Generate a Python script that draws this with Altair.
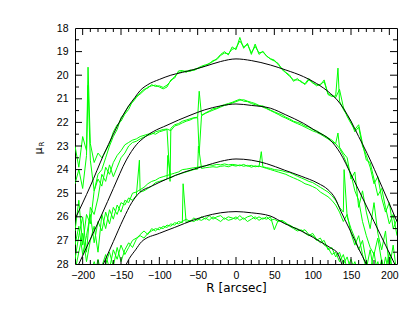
import altair as alt
import pandas as pd

# ---------------- data ----------------
R_GRID = [-210, -205, -200, -195, -190, -185, -180, -175, -170, -165, -160, -155, -150, -145, -140,
          -135, -130, -125, -120, -115, -110, -105, -100, -95, -90, -85, -80, -75, -70, -65, -60,
          -55, -50, -45, -40, -35, -30, -25, -20, -15, -10, -5, 0, 5, 10, 15, 20, 25, 30, 35, 40,
          45, 50, 55, 60, 65, 70, 75, 80, 85, 90, 95, 100, 105, 110, 115, 120, 125, 130, 135, 140,
          145, 150, 155, 160, 165, 170, 175, 180, 185, 190, 195, 200, 205, 210]

G1A = [23.0, 23.9, 22.6, 23.2, 22.9, 23.7, 23.3, 23.5,
       23.2, 22.9, 22.4, 22.1, 21.95, 21.65, 21.45, 21.1, 20.9,
       20.8, 20.65, 20.5, 20.45, 20.42, 20.5, 20.58, 20.5, 20.2, 20.12,
       19.82, 19.8, 19.88, 19.78, 19.8, 19.72, 19.66,
       19.6, 19.5, 19.42, 19.3, 19.12, 19.0, 19.14, 18.8,
       18.92, 18.4, 18.86, 18.65, 19.12, 18.68, 19.12, 18.98,
       19.2, 19.3, 19.36, 19.55, 19.72, 19.88, 20.0, 20.26,
       20.14, 20.3, 20.36, 20.14, 20.34, 20.4, 20.42, 20.2,
       20.82, 20.9, 20.88, 21.1, 21.45, 21.7, 21.95, 22.4,
       22.2, 23.0, 23.4, 23.9, 24.6, 24.3, 25.2, 25.8, 25.4, 26.5, 26.1]
G1B = [24.6, 24.0, 24.8, 23.4, 23.6, 24.9, 24.2, 24.0,
       23.5, 23.0, 22.6, 22.3, 21.8, 21.6, 21.3, 21.15, 20.95,
       20.75, 20.6, 20.55, 20.4, 20.48, 20.45, 20.52, 20.42, 20.25, 20.05,
       19.9, 19.84, 19.82, 19.84, 19.76, 19.7, 19.62,
       19.56, 19.52, 19.38, 19.34, 19.16, 19.06, 19.1, 18.9,
       18.85, 18.55, 18.8, 18.7, 19.05, 18.78, 19.05, 19.02,
       19.18, 19.32, 19.4, 19.5, 19.76, 19.9, 20.05, 20.2,
       20.2, 20.25, 20.4, 20.2, 20.3, 20.45, 20.38, 20.28,
       20.78, 20.85, 20.95, 20.6, 21.35, 21.75, 22.05, 22.3,
       22.1, 22.9, 23.6, 23.7, 24.4, 25.1, 24.8, 25.6, 26.3, 25.9, 26.8]
G2A = [26.6, 25.3, 27.2, 25.9, 26.3, 24.9, 24.4, 24.7,
       23.9, 24.2, 23.7, 23.4, 23.2, 22.95, 22.85, 22.75, 22.7,
       22.6, 22.55, 22.5, 22.45, 22.5, 22.4, 22.35, 22.3, 22.25, 22.1,
       22.05, 21.95, 21.9, 21.85, 21.8, 21.78, 21.7,
       21.6, 21.52, 21.42, 21.4, 21.3, 21.25, 21.2, 21.15,
       21.08, 21.02, 21.1, 21.12, 21.2, 21.25, 21.3, 21.3,
       21.4, 21.48, 21.55, 21.62, 21.68, 21.78, 21.85, 21.95,
       22.0, 22.05, 22.15, 22.2, 22.3, 22.35, 22.45, 22.55,
       22.65, 22.75, 22.9, 23.1, 23.4, 23.8, 24.2, 24.9,
       25.3, 26.2, 26.8, 27.3, 27.6, 26.9, 27.9, 28.3, 27.5, 28.4, 28.2]
G2B = [27.8, 26.8, 26.0, 27.5, 25.6, 25.9, 25.2, 24.2,
       24.5, 23.8, 24.3, 23.9, 23.5, 23.3, 23.0, 22.85, 22.8,
       22.7, 22.62, 22.55, 22.5, 22.4, 22.35, 22.3, 22.28, 22.35, 22.15,
       22.1, 22.02, 21.95, 21.9, 21.82, 21.8, 21.72,
       21.62, 21.55, 21.48, 21.42, 21.35, 21.28, 21.24, 21.18,
       21.12, 21.06, 21.04, 21.1, 21.15, 21.2, 21.28, 21.35,
       21.42, 21.5, 21.58, 21.66, 21.75, 21.82, 21.9, 21.98,
       22.05, 22.12, 22.2, 22.28, 22.36, 22.42, 22.5, 22.6,
       22.7, 22.82, 22.9, 23.05, 23.3, 23.5, 24.4, 24.1,
       25.6, 24.9, 25.8, 26.5, 25.4, 26.7, 27.4, 26.6, 28.2, 27.2, 28.5]
G3A = [27.2, 26.4, 27.6, 26.8, 25.9, 27.1, 26.2, 26.6,
       25.8, 26.3, 25.6, 25.9, 25.4, 25.5, 25.2, 25.3, 25.1,
       24.95, 24.9, 24.8, 24.7, 24.55, 24.5, 24.45, 24.4, 24.35, 24.25,
       24.2, 24.15, 24.1, 24.05, 24.0, 23.98, 23.95,
       23.92, 23.9, 23.88, 23.9, 23.86, 23.84, 23.88, 23.82,
       23.85, 23.8, 23.86, 23.82, 23.9, 23.84, 23.88, 23.88,
       23.92, 23.95, 24.0, 24.02, 24.05, 24.1, 24.12, 24.2,
       24.28, 24.35, 24.42, 24.5, 24.55, 24.65, 24.75, 24.85,
       24.95, 25.1, 25.3, 25.6, 25.8, 26.0, 26.5, 26.9,
       27.4, 27.0, 27.9, 28.3, 27.5, 28.5, 27.8, 28.6, 28.1, 28.4, 28.7]
G3B = [28.3, 27.5, 26.7, 27.9, 27.0, 26.4, 27.5, 25.9,
       26.5, 25.7, 26.1, 25.5, 25.8, 25.3, 25.4, 25.0, 24.95,
       24.85, 24.75, 24.6, 24.5, 24.45, 24.35, 24.3, 24.25, 24.2, 24.15,
       24.1, 24.0, 23.98, 23.95, 23.92, 23.9, 23.86,
       23.84, 23.8, 23.82, 23.78, 23.8, 23.76, 23.8, 23.78,
       23.8, 23.84, 23.78, 23.86, 23.82, 23.88, 23.85, 23.9,
       23.95, 24.0, 24.05, 24.1, 24.15, 24.2, 24.28, 24.35,
       24.42, 24.5, 24.6, 24.65, 24.72, 24.8, 24.95, 25.05,
       25.15, 25.3, 25.5, 25.8, 26.2, 25.9, 26.7, 27.2,
       26.8, 27.6, 28.2, 27.4, 28.4, 27.9, 28.6, 27.7, 28.5, 28.2, 28.8]
G4A = [28.6, 28.2, 28.8, 28.3, 28.5, 27.9, 28.4, 28.1,
       27.6, 28.2, 27.4, 27.8, 27.2, 27.6, 27.3, 27.0, 26.9,
       26.8, 26.9, 26.7, 26.6, 26.5, 26.55, 26.4, 26.45, 26.3, 26.35,
       26.2, 26.25, 26.25, 26.15, 26.2, 26.1, 26.15,
       26.05, 26.15, 26.0, 26.1, 26.2, 26.05, 26.15, 26.1,
       26.0, 26.15, 26.05, 26.2, 26.1, 26.0, 26.15, 26.05,
       26.1, 26.0, 26.55, 26.15, 26.2, 26.3, 26.35, 26.45,
       26.5, 26.6, 26.55, 26.75, 26.8, 27.0, 26.9, 27.2,
       27.3, 27.6, 27.5, 27.9, 27.6, 28.2, 27.8, 28.3,
       28.1, 28.5, 27.9, 28.6, 28.3, 28.8, 28.4, 28.9, 28.5, 28.8, 29.0]
G4B = [28.3, 28.7, 28.1, 28.9, 28.2, 28.6, 27.8, 28.5,
       28.0, 27.5, 28.1, 27.3, 27.9, 27.4, 27.1, 27.3, 26.95,
       26.75, 26.6, 26.75, 26.5, 26.6, 26.45, 26.5, 26.35, 26.4, 26.25,
       26.3, 26.2, 26.1, 26.2, 26.05, 26.15, 26.0,
       26.1, 25.95, 26.1, 26.0, 25.95, 26.1, 26.0, 26.05,
       26.1, 25.95, 26.1, 26.0, 25.95, 26.1, 26.0, 26.1,
       26.0, 26.15, 26.1, 26.2, 26.15, 26.25, 26.4, 26.5,
       26.6, 26.55, 26.7, 26.8, 26.7, 26.95, 27.1, 27.0,
       27.4, 27.3, 27.7, 27.5, 28.0, 27.7, 28.3, 27.9,
       28.4, 28.0, 28.6, 28.2, 28.7, 28.3, 28.9, 28.5, 28.7, 29.0, 28.6]

# narrow spikes (foreground stars) inserted between grid points
SPIKE_SERIES = ["1a", "1b", "1a", "2a", "2a", "2b", "2b", "3a", "3a", "3a", "3a", "3a", "4a"]
SPIKE_R = [-193, -193, 133, -86, -48, -48, 133, -126, -89, -49, 33, 141, -69]
SPIKE_MU = [19.66, 20.43, 19.7, 24.5, 20.68, 23.3, 22.45, 23.6, 23.4, 23.0, 23.24, 24.0, 24.6]

BLACK1_R = [-210, -190, -173, -160, -150, -140, -132, -125, -115, -100, -85, -70, -55, -40, -20,
            0, 20, 45, 65, 88, 105, 123, 132, 140, 150, 160, 171, 190, 210]
BLACK1_MU = [26.1, 24.7, 23.4, 22.5, 21.85, 21.3, 20.95, 20.65, 20.4, 20.18, 20.0, 19.88, 19.76,
             19.62, 19.42, 19.31, 19.38, 19.57, 19.78, 20.06, 20.35, 20.77, 21.05, 21.4, 21.95,
             22.6, 23.31, 24.7, 26.2]
BLACK2_R = [-205, -190, -175, -160, -143, -130, -118, -108, -90, -75, -60, -41, -20, 0, 20, 45,
            65, 88, 105, 123, 136, 150, 165, 180, 195, 207]
BLACK2_MU = [28.0, 26.95, 25.9, 24.8, 23.59, 22.95, 22.6, 22.39, 22.12, 21.9, 21.7, 21.47, 21.3,
             21.22, 21.28, 21.4, 21.68, 22.04, 22.38, 22.75, 23.3, 24.2, 25.2, 26.2, 27.2, 28.0]
BLACK3_R = [-173, -160, -147, -136, -126, -110, -91, -67, -41, -20, 0, 20, 40, 63, 85, 107, 120,
            129, 137, 150, 160, 170]
BLACK3_MU = [28.0, 27.05, 26.1, 25.4, 24.98, 24.7, 24.41, 24.1, 23.85, 23.65, 23.55, 23.6, 23.75,
             24.02, 24.28, 24.58, 24.85, 25.2, 25.78, 26.65, 27.35, 28.0]
BLACK4_R = [-143, -139, -131, -123, -100, -80, -67, -41, -20, 0, 20, 45, 63, 85, 101, 115, 125,
            132, 138]
BLACK4_MU = [28.0, 27.76, 27.4, 27.05, 26.7, 26.45, 26.28, 25.98, 25.83, 25.78, 25.83, 25.97,
             26.28, 26.6, 26.88, 27.15, 27.35, 27.52, 28.0]

X_LABELS = [-200, -150, -100, -50, 0, 50, 100, 150, 200]
X_MINOR = [-190, -180, -170, -160, -140, -130, -120, -110, -90, -80, -70, -60, -40, -30, -20, -10,
           10, 20, 30, 40, 60, 70, 80, 90, 110, 120, 130, 140, 160, 170, 180, 190]
Y_LABELS = [18, 19, 20, 21, 22, 23, 24, 25, 26, 27, 28]
Y_MAJOR = [19, 20, 21, 22, 23, 24, 25, 26, 27]
Y_MINOR = [18.5, 19.5, 20.5, 21.5, 22.5, 23.5, 24.5, 25.5, 26.5, 27.5]

# ---------------- build tables ----------------
green_rows = []
for name, vals in [("1a", G1A), ("1b", G1B), ("2a", G2A), ("2b", G2B),
                   ("3a", G3A), ("3b", G3B), ("4a", G4A), ("4b", G4B)]:
    for r, m in zip(R_GRID, vals):
        green_rows.append({"R": r, "mu": m, "s": name})
for s, r, m in zip(SPIKE_SERIES, SPIKE_R, SPIKE_MU):
    green_rows.append({"R": r, "mu": m, "s": s})
green_df = pd.DataFrame(green_rows).sort_values(["s", "R"]).reset_index(drop=True)

black_rows = []
for name, rs, ms in [("b1", BLACK1_R, BLACK1_MU), ("b2", BLACK2_R, BLACK2_MU),
                     ("b3", BLACK3_R, BLACK3_MU), ("b4", BLACK4_R, BLACK4_MU)]:
    for r, m in zip(rs, ms):
        black_rows.append({"R": r, "mu": m, "s": name})
black_df = pd.DataFrame(black_rows)

W, H = 322, 236
FONT = "Liberation Sans"

xscale = alt.Scale(domain=[-210, 210], nice=False, zero=False)
yscale = alt.Scale(domain=[18, 28], reverse=True, nice=False, zero=False)

x_axis = alt.Axis(values=X_LABELS, ticks=False, domain=False, grid=False, labelFont=FONT,
                  labelFontSize=10.5, labelColor="black", labelPadding=6, labelFlush=False,
                  title="R [arcsec]", titleFont="DejaVu Sans", titleFontSize=12,
                  titleFontWeight="normal", titleColor="black", titlePadding=2)
y_axis = alt.Axis(values=Y_LABELS, ticks=False, domain=False, grid=False, labelFont=FONT,
                  labelFontSize=10.5, labelColor="black", labelPadding=7, labelFlush=False,
                  title="")

X_ENC = alt.X("R:Q", scale=xscale, axis=x_axis)
Y_ENC = alt.Y("mu:Q", scale=yscale, axis=y_axis)

green = alt.Chart(green_df).mark_line(color="#00ff00", strokeWidth=1, clip=True).encode(
    x=X_ENC, y=Y_ENC, detail="s:N", order="R:Q",
)

black = alt.Chart(black_df).mark_line(color="black", strokeWidth=1, clip=True,
                                       interpolate="monotone").encode(
    x=X_ENC, y=Y_ENC, detail="s:N",
)

def xticks(vals, length):
    df = pd.DataFrame({"R": vals})
    bot = alt.Chart(df).mark_rule(color="black", strokeWidth=1).encode(
        x=X_ENC, y=alt.value(H), y2=alt.value(H - length))
    top = alt.Chart(df).mark_rule(color="black", strokeWidth=1).encode(
        x=X_ENC, y=alt.value(0), y2=alt.value(length))
    return [bot, top]

def yticks(vals, length):
    df = pd.DataFrame({"mu": vals})
    left = alt.Chart(df).mark_rule(color="black", strokeWidth=1).encode(
        y=Y_ENC, x=alt.value(0), x2=alt.value(length))
    right = alt.Chart(df).mark_rule(color="black", strokeWidth=1).encode(
        y=Y_ENC, x=alt.value(W), x2=alt.value(W - length))
    return [left, right]

tick_layers = xticks(X_LABELS, 7) + xticks(X_MINOR, 4) + yticks(Y_MAJOR, 7) + yticks(Y_MINOR, 4)

mu_txt = alt.Chart(pd.DataFrame({"t": ["μ"]})).mark_text(
    angle=270, font="DejaVu Sans", fontSize=11, color="black", align="center",
    baseline="middle").encode(text="t:N", x=alt.value(-36), y=alt.value(123))
r_txt = alt.Chart(pd.DataFrame({"t": ["R"]})).mark_text(
    angle=270, font="DejaVu Sans", fontSize=7, color="black", align="center",
    baseline="middle").encode(text="t:N", x=alt.value(-33), y=alt.value(116))

chart = alt.layer(green, black, *tick_layers, mu_txt, r_txt).properties(
    width=W, height=H,
    padding={"left": 67, "top": 20, "right": 4, "bottom": 44},
    autosize=alt.AutoSizeParams(type="none"),
    background="white",
).configure_view(stroke="black", strokeWidth=1)

chart.save("out.html", embed_options={"renderer": "svg", "actions": False})
